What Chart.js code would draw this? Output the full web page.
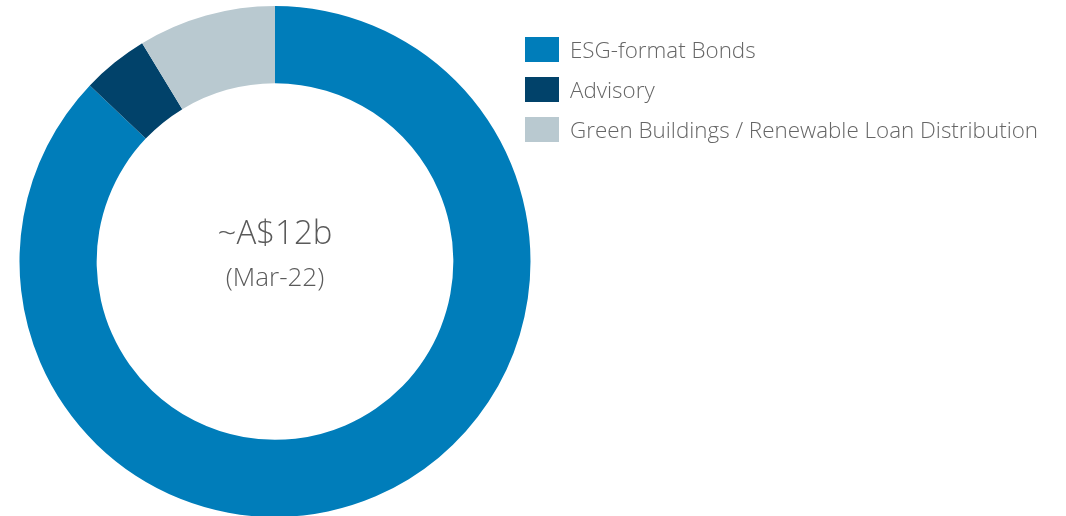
<!DOCTYPE html>
<html>
<head>
<meta charset="utf-8">
<script src="https://cdn.jsdelivr.net/npm/chart.js@4"></script>
<style>
  html, body { margin: 0; padding: 0; background: #fff; overflow: hidden; }
  #wrap { position: relative; width: 1066px; height: 516px; overflow: hidden; }
  #myChart { position: absolute; left: 0; top: 0; }
  #legend { position: absolute; left: 525px; top: 37px; font-family: "Open Sans", sans-serif; font-weight: 300; font-size: 22.4px; color: #666; }
  .item { display: flex; align-items: center; height: 25px; margin-bottom: 15px; white-space: nowrap; }
  .box { width: 34px; height: 25px; margin-right: 11px; flex: none; }
</style>
</head>
<body>
<div id="wrap">
  <canvas id="myChart" width="1066" height="520"></canvas>
  <div id="legend"></div>
</div>
<script>
const labels = ['ESG-format Bonds', 'Advisory', 'Green Buildings / Renewable Loan Distribution'];
const shares = [87.1, 4.2, 8.7];
const colors = ['#007dba', '#01426a', '#b9c9d0'];
const centerText = ['~A$12b', '(Mar-22)'];

// text in the hole of the doughnut
const centerLabel = {
  id: 'centerLabel',
  afterDraw(chart) {
    const meta = chart.getDatasetMeta(0).data[0];
    const ctx = chart.ctx;
    ctx.save();
    ctx.fillStyle = '#5a5a5a';
    ctx.textAlign = 'center';
    ctx.textBaseline = 'alphabetic';
    ctx.font = '300 33px "Open Sans", sans-serif';
    ctx.fillText(centerText[0], meta.x, 244);
    ctx.font = '300 26px "Open Sans", sans-serif';
    ctx.fillText(centerText[1], meta.x, 286);
    ctx.restore();
  }
};

const ctx = document.getElementById('myChart').getContext('2d');
new Chart(ctx, {
  type: 'doughnut',
  data: {
    labels: labels,
    datasets: [{
      data: shares,
      backgroundColor: colors,
      borderWidth: 0
    }]
  },
  options: {
    responsive: false,
    animation: false,
    cutout: '69.8%',
    layout: { padding: { left: 19.5, right: 535.5, top: 6, bottom: 3 } },
    plugins: {
      legend: { display: false },
      tooltip: { enabled: false }
    }
  },
  plugins: [centerLabel]
});

// legend built from the same arrays
const legend = document.getElementById('legend');
labels.forEach((l, i) => {
  const row = document.createElement('div');
  row.className = 'item';
  row.innerHTML = '<span class="box" style="background:' + colors[i] + '"></span><span>' + l + '</span>';
  legend.appendChild(row);
});
</script>
</body>
</html>
